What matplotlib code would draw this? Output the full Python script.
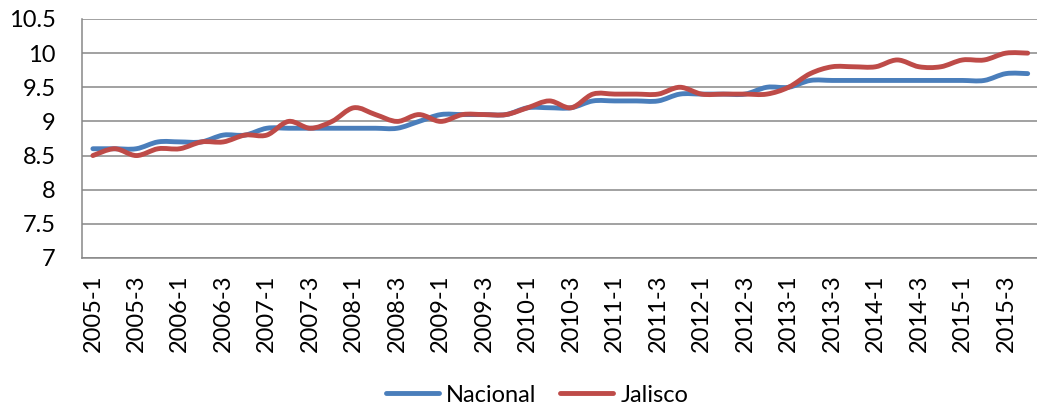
import numpy as np
import matplotlib.pyplot as plt
from matplotlib.path import Path
from matplotlib.patches import PathPatch
from matplotlib.lines import Line2D

plt.rcParams['font.family'] = ['Lato', 'DejaVu Sans']

# quarters 2005-1 .. 2015-4
years = list(range(2005, 2016))
quarters = [str(y) + '-' + str(q) for y in years for q in range(1, 5)]

nacional = [8.6, 8.6, 8.6, 8.7, 8.7, 8.7, 8.8, 8.8, 8.9, 8.9, 8.9,
            8.9, 8.9, 8.9, 8.9, 9.0, 9.1, 9.1, 9.1, 9.1, 9.2, 9.2,
            9.2, 9.3, 9.3, 9.3, 9.3, 9.4, 9.4, 9.4, 9.4, 9.5, 9.5,
            9.6, 9.6, 9.6, 9.6, 9.6, 9.6, 9.6, 9.6, 9.6, 9.7, 9.7]
jalisco = [8.5, 8.6, 8.5, 8.6, 8.6, 8.7, 8.7, 8.8, 8.8, 9.0, 8.9,
           9.0, 9.2, 9.1, 9.0, 9.1, 9.0, 9.1, 9.1, 9.1, 9.2, 9.3,
           9.2, 9.4, 9.4, 9.4, 9.4, 9.5, 9.4, 9.4, 9.4, 9.4, 9.5,
           9.7, 9.8, 9.8, 9.8, 9.9, 9.8, 9.8, 9.9, 9.9, 10.0, 10.0]

blue = '#4A7EBB'
red = '#BE4B48'


def smooth_path(xs, ys):
    # bezier curve through the points, like the "smoothed line" option
    pts = np.column_stack([xs, ys]).astype(float)
    n = len(pts)
    verts = [pts[0]]
    codes = [Path.MOVETO]
    for i in range(n - 1):
        p0 = pts[i - 1] if i > 0 else pts[i]
        p1 = pts[i]
        p2 = pts[i + 1]
        p3 = pts[i + 2] if i + 2 < n else pts[i + 1]
        c1 = p1 + (p2 - p0) / 6.0
        c2 = p2 - (p3 - p1) / 6.0
        verts += [c1, c2, p2]
        codes += [Path.CURVE4] * 3
    return Path(verts, codes)


fig = plt.figure(figsize=(10.37, 4.09), dpi=100)
ax = fig.add_axes([0.0791, 0.3692, 0.9224, 0.5844])

x = np.arange(len(quarters))
for vals, col in [(nacional, blue), (jalisco, red)]:
    patch = PathPatch(smooth_path(x, vals), facecolor='none', edgecolor=col,
                      lw=3.5, capstyle='round', joinstyle='round', zorder=3)
    ax.add_patch(patch)

ax.set_xlim(-0.5, len(quarters) - 0.5)
ax.set_ylim(7, 10.5)
ax.set_yticks(np.arange(7, 10.51, 0.5))
ax.set_yticklabels(['7', '7.5', '8', '8.5', '9', '9.5', '10', '10.5'])
ax.set_xticks(x[::2])
ax.set_xticklabels(quarters[::2], rotation=90)

ax.grid(axis='y', color='#878787', lw=1.1)
ax.set_axisbelow(True)
for s in ['top', 'right']:
    ax.spines[s].set_visible(False)
for s in ['left', 'bottom']:
    ax.spines[s].set_color('#878787')
    ax.spines[s].set_linewidth(1.1)
ax.tick_params(axis='both', length=0, labelsize=17, colors='black')
ax.tick_params(axis='y', pad=19)
ax.tick_params(axis='x', pad=12)

handles = [Line2D([], [], color=blue, lw=3.5, solid_capstyle='round'),
           Line2D([], [], color=red, lw=3.5, solid_capstyle='round')]
fig.legend(handles, ['Nacional', 'Jalisco'], loc='center', ncol=2,
           bbox_to_anchor=(0.518, 0.034), frameon=False, fontsize=17,
           handlelength=2.25, handletextpad=0.3, columnspacing=1.0)

fig.savefig('out.png', dpi=100)
